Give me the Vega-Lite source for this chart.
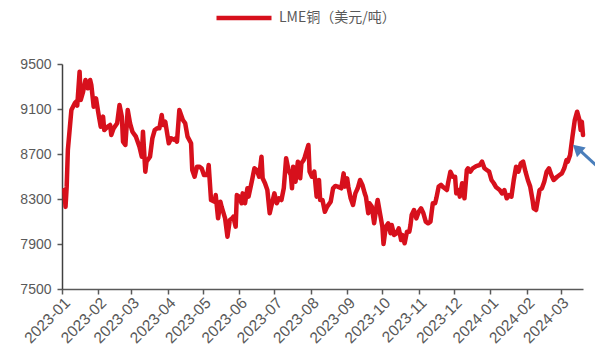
{
  "$schema": "https://vega.github.io/schema/vega-lite/v6.json",
  "width": 521,
  "height": 225,
  "autosize": {"type": "none"},
  "padding": {"left": 62, "top": 64, "right": 12, "bottom": 60},
  "background": "white",
  "config": {
    "view": {"stroke": null},
    "axis": {"grid": false, "labelFont": "Liberation Sans", "labelColor": "#595959", "labelFontSize": 14, "domainColor": "#595959", "domainWidth": 1.5, "tickColor": "#595959", "tickWidth": 1.5, "tickSize": 5, "title": null}
  },
  "datasets": {
    "copper": [
      {"date": "2023-01-03", "price": 8380}, {"date": "2023-01-04", "price": 8230}, {"date": "2023-01-05", "price": 8410},
      {"date": "2023-01-06", "price": 8736}, {"date": "2023-01-09", "price": 9091}, {"date": "2023-01-12", "price": 9153},
      {"date": "2023-01-13", "price": 9165}, {"date": "2023-01-14", "price": 9130}, {"date": "2023-01-16", "price": 9432},
      {"date": "2023-01-17", "price": 9180}, {"date": "2023-01-19", "price": 9254}, {"date": "2023-01-21", "price": 9358},
      {"date": "2023-01-23", "price": 9284}, {"date": "2023-01-25", "price": 9358}, {"date": "2023-01-26", "price": 9313},
      {"date": "2023-01-28", "price": 9120}, {"date": "2023-01-30", "price": 9195}, {"date": "2023-02-01", "price": 9062},
      {"date": "2023-02-03", "price": 8943}, {"date": "2023-02-05", "price": 9032}, {"date": "2023-02-06", "price": 8913},
      {"date": "2023-02-09", "price": 8943}, {"date": "2023-02-11", "price": 8958}, {"date": "2023-02-12", "price": 8869},
      {"date": "2023-02-14", "price": 8928}, {"date": "2023-02-17", "price": 8973}, {"date": "2023-02-19", "price": 9136},
      {"date": "2023-02-21", "price": 9032}, {"date": "2023-02-22", "price": 8810}, {"date": "2023-02-24", "price": 8780},
      {"date": "2023-02-26", "price": 9091}, {"date": "2023-02-28", "price": 8973}, {"date": "2023-03-02", "price": 8898},
      {"date": "2023-03-05", "price": 8854}, {"date": "2023-03-08", "price": 8765}, {"date": "2023-03-10", "price": 8676},
      {"date": "2023-03-11", "price": 8898}, {"date": "2023-03-13", "price": 8543}, {"date": "2023-03-14", "price": 8632},
      {"date": "2023-03-17", "price": 8676}, {"date": "2023-03-19", "price": 8839}, {"date": "2023-03-21", "price": 8913},
      {"date": "2023-03-23", "price": 8928}, {"date": "2023-03-25", "price": 8928}, {"date": "2023-03-27", "price": 9047},
      {"date": "2023-03-28", "price": 8958}, {"date": "2023-03-30", "price": 8987}, {"date": "2023-04-02", "price": 8795},
      {"date": "2023-04-04", "price": 8839}, {"date": "2023-04-07", "price": 8824}, {"date": "2023-04-08", "price": 8839},
      {"date": "2023-04-09", "price": 8810}, {"date": "2023-04-11", "price": 9091}, {"date": "2023-04-14", "price": 9002},
      {"date": "2023-04-16", "price": 8973}, {"date": "2023-04-18", "price": 8854}, {"date": "2023-04-21", "price": 8795},
      {"date": "2023-04-22", "price": 8558}, {"date": "2023-04-24", "price": 8498}, {"date": "2023-04-26", "price": 8587},
      {"date": "2023-04-28", "price": 8587}, {"date": "2023-04-30", "price": 8573}, {"date": "2023-05-02", "price": 8513},
      {"date": "2023-05-05", "price": 8513}, {"date": "2023-05-06", "price": 8602}, {"date": "2023-05-08", "price": 8291},
      {"date": "2023-05-11", "price": 8276}, {"date": "2023-05-12", "price": 8335}, {"date": "2023-05-14", "price": 8128},
      {"date": "2023-05-16", "price": 8276}, {"date": "2023-05-17", "price": 8232}, {"date": "2023-05-20", "price": 8128},
      {"date": "2023-05-22", "price": 7965}, {"date": "2023-05-24", "price": 8113}, {"date": "2023-05-26", "price": 8128},
      {"date": "2023-05-27", "price": 8143}, {"date": "2023-05-29", "price": 8054}, {"date": "2023-05-30", "price": 8335},
      {"date": "2023-06-01", "price": 8321}, {"date": "2023-06-03", "price": 8262}, {"date": "2023-06-04", "price": 8350},
      {"date": "2023-06-06", "price": 8262}, {"date": "2023-06-08", "price": 8395}, {"date": "2023-06-09", "price": 8321},
      {"date": "2023-06-12", "price": 8469}, {"date": "2023-06-14", "price": 8573}, {"date": "2023-06-16", "price": 8558},
      {"date": "2023-06-18", "price": 8498}, {"date": "2023-06-20", "price": 8676}, {"date": "2023-06-21", "price": 8484},
      {"date": "2023-06-23", "price": 8440}, {"date": "2023-06-25", "price": 8380}, {"date": "2023-06-27", "price": 8173},
      {"date": "2023-06-29", "price": 8262}, {"date": "2023-07-01", "price": 8350}, {"date": "2023-07-03", "price": 8262},
      {"date": "2023-07-05", "price": 8306}, {"date": "2023-07-07", "price": 8291}, {"date": "2023-07-09", "price": 8395},
      {"date": "2023-07-11", "price": 8662}, {"date": "2023-07-13", "price": 8558}, {"date": "2023-07-15", "price": 8513},
      {"date": "2023-07-16", "price": 8395}, {"date": "2023-07-17", "price": 8587}, {"date": "2023-07-19", "price": 8454},
      {"date": "2023-07-21", "price": 8632}, {"date": "2023-07-23", "price": 8484}, {"date": "2023-07-24", "price": 8617},
      {"date": "2023-07-26", "price": 8647}, {"date": "2023-07-27", "price": 8676}, {"date": "2023-07-30", "price": 8780},
      {"date": "2023-07-31", "price": 8543}, {"date": "2023-08-02", "price": 8498}, {"date": "2023-08-04", "price": 8543},
      {"date": "2023-08-06", "price": 8321}, {"date": "2023-08-08", "price": 8469}, {"date": "2023-08-09", "price": 8291},
      {"date": "2023-08-11", "price": 8291}, {"date": "2023-08-13", "price": 8187}, {"date": "2023-08-15", "price": 8232},
      {"date": "2023-08-18", "price": 8276}, {"date": "2023-08-20", "price": 8395}, {"date": "2023-08-22", "price": 8416},
      {"date": "2023-08-24", "price": 8410}, {"date": "2023-08-27", "price": 8395}, {"date": "2023-08-29", "price": 8528},
      {"date": "2023-08-30", "price": 8410}, {"date": "2023-09-01", "price": 8484}, {"date": "2023-09-02", "price": 8410},
      {"date": "2023-09-04", "price": 8306}, {"date": "2023-09-06", "price": 8247}, {"date": "2023-09-08", "price": 8350},
      {"date": "2023-09-10", "price": 8395}, {"date": "2023-09-12", "price": 8469}, {"date": "2023-09-14", "price": 8425},
      {"date": "2023-09-16", "price": 8350}, {"date": "2023-09-17", "price": 8321}, {"date": "2023-09-19", "price": 8173},
      {"date": "2023-09-20", "price": 8262}, {"date": "2023-09-22", "price": 8232}, {"date": "2023-09-24", "price": 8084},
      {"date": "2023-09-26", "price": 8232}, {"date": "2023-09-27", "price": 8291}, {"date": "2023-09-29", "price": 8173},
      {"date": "2023-10-01", "price": 8054}, {"date": "2023-10-02", "price": 7900}, {"date": "2023-10-04", "price": 8054},
      {"date": "2023-10-06", "price": 8084}, {"date": "2023-10-08", "price": 7995}, {"date": "2023-10-09", "price": 8069},
      {"date": "2023-10-11", "price": 7980}, {"date": "2023-10-13", "price": 7995}, {"date": "2023-10-15", "price": 8039},
      {"date": "2023-10-17", "price": 7935}, {"date": "2023-10-18", "price": 7980}, {"date": "2023-10-20", "price": 7906},
      {"date": "2023-10-22", "price": 8010}, {"date": "2023-10-24", "price": 8010}, {"date": "2023-10-25", "price": 8069},
      {"date": "2023-10-26", "price": 8158}, {"date": "2023-10-28", "price": 8202}, {"date": "2023-10-30", "price": 8128},
      {"date": "2023-11-01", "price": 8187}, {"date": "2023-11-03", "price": 8217}, {"date": "2023-11-05", "price": 8173},
      {"date": "2023-11-07", "price": 8099}, {"date": "2023-11-09", "price": 8084}, {"date": "2023-11-11", "price": 8099},
      {"date": "2023-11-13", "price": 8262}, {"date": "2023-11-15", "price": 8262}, {"date": "2023-11-16", "price": 8306},
      {"date": "2023-11-18", "price": 8410}, {"date": "2023-11-20", "price": 8425}, {"date": "2023-11-22", "price": 8404},
      {"date": "2023-11-25", "price": 8380}, {"date": "2023-11-26", "price": 8440}, {"date": "2023-11-28", "price": 8543},
      {"date": "2023-11-30", "price": 8498}, {"date": "2023-12-02", "price": 8498}, {"date": "2023-12-03", "price": 8350},
      {"date": "2023-12-05", "price": 8380}, {"date": "2023-12-06", "price": 8321}, {"date": "2023-12-08", "price": 8440},
      {"date": "2023-12-10", "price": 8306}, {"date": "2023-12-12", "price": 8558}, {"date": "2023-12-13", "price": 8573},
      {"date": "2023-12-15", "price": 8543}, {"date": "2023-12-17", "price": 8573}, {"date": "2023-12-20", "price": 8593},
      {"date": "2023-12-23", "price": 8602}, {"date": "2023-12-25", "price": 8632}, {"date": "2023-12-27", "price": 8573},
      {"date": "2023-12-29", "price": 8558}, {"date": "2023-12-31", "price": 8543}, {"date": "2024-01-02", "price": 8469},
      {"date": "2024-01-04", "price": 8440}, {"date": "2024-01-06", "price": 8404}, {"date": "2024-01-09", "price": 8380},
      {"date": "2024-01-11", "price": 8350}, {"date": "2024-01-13", "price": 8380}, {"date": "2024-01-15", "price": 8306},
      {"date": "2024-01-17", "price": 8335}, {"date": "2024-01-19", "price": 8321}, {"date": "2024-01-21", "price": 8469},
      {"date": "2024-01-23", "price": 8587}, {"date": "2024-01-25", "price": 8543}, {"date": "2024-01-27", "price": 8617},
      {"date": "2024-01-29", "price": 8632}, {"date": "2024-01-31", "price": 8543}, {"date": "2024-02-02", "price": 8469},
      {"date": "2024-02-04", "price": 8410}, {"date": "2024-02-06", "price": 8291}, {"date": "2024-02-07", "price": 8217},
      {"date": "2024-02-09", "price": 8202}, {"date": "2024-02-10", "price": 8262}, {"date": "2024-02-12", "price": 8380},
      {"date": "2024-02-14", "price": 8395}, {"date": "2024-02-16", "price": 8454}, {"date": "2024-02-18", "price": 8543},
      {"date": "2024-02-20", "price": 8573}, {"date": "2024-02-22", "price": 8513}, {"date": "2024-02-24", "price": 8469},
      {"date": "2024-02-27", "price": 8498}, {"date": "2024-02-29", "price": 8513}, {"date": "2024-03-02", "price": 8528},
      {"date": "2024-03-04", "price": 8573}, {"date": "2024-03-06", "price": 8647}, {"date": "2024-03-07", "price": 8632},
      {"date": "2024-03-09", "price": 8691}, {"date": "2024-03-11", "price": 8854}, {"date": "2024-03-13", "price": 9002},
      {"date": "2024-03-15", "price": 9076}, {"date": "2024-03-17", "price": 9002}, {"date": "2024-03-18", "price": 8913},
      {"date": "2024-03-19", "price": 8987}, {"date": "2024-03-20", "price": 8869}
    ],
    "arrowShaft": [
      {"start": "2024-03-31", "startPrice": 8600, "end": "2024-03-15", "endPrice": 8755}
    ],
    "arrowHead": [
      {"date": "2024-03-15", "price": 8748}
    ]
  },
  "layer": [
    {
      "data": {"name": "copper"},
      "mark": {"type": "line", "strokeWidth": 4.5, "strokeJoin": "round", "strokeCap": "round"},
      "encoding": {
        "x": {
          "field": "date", "type": "temporal",
          "scale": {"type": "utc", "domain": [{"year": 2023, "month": 1, "date": 1, "utc": true}, {"year": 2024, "month": 3, "date": 20, "utc": true}]},
          "axis": {"format": "%Y-%m", "labelAngle": -45, "tickCount": {"interval": "month", "step": 1}, "labelOverlap": false, "labelPadding": 1, "labelFontSize": 15.5}
        },
        "y": {
          "field": "price", "type": "quantitative",
          "scale": {"domain": [7500, 9500], "nice": false, "zero": false},
          "axis": {"values": [7500, 7900, 8300, 8700, 9100, 9500], "format": "d", "domainColor": "#404040", "labelPadding": 6}
        },
        "color": {
          "datum": "LME铜（美元/吨）",
          "scale": {"range": ["#d7101c"]},
          "legend": {
            "title": null, "orient": "none", "legendX": 152, "legendY": -76,
            "symbolType": "stroke", "symbolSize": 3025, "symbolStrokeWidth": 4.5,
            "labelFont": "Noto Sans CJK SC", "labelFontSize": 14, "labelColor": "#595959", "labelOffset": 5
          }
        }
      }
    },
    {
      "data": {"name": "arrowShaft"},
      "mark": {"type": "rule", "color": "#4a7ebb", "strokeWidth": 3, "clip": false},
      "encoding": {
        "x": {"field": "start", "type": "temporal"},
        "y": {"field": "startPrice", "type": "quantitative"},
        "x2": {"field": "end"},
        "y2": {"field": "endPrice"}
      }
    },
    {
      "data": {"name": "arrowHead"},
      "mark": {"type": "point", "shape": "triangle-up", "filled": true, "color": "#4a7ebb", "size": 170, "angle": 312, "opacity": 1, "clip": false},
      "encoding": {
        "x": {"field": "date", "type": "temporal"},
        "y": {"field": "price", "type": "quantitative"}
      }
    }
  ]
}
